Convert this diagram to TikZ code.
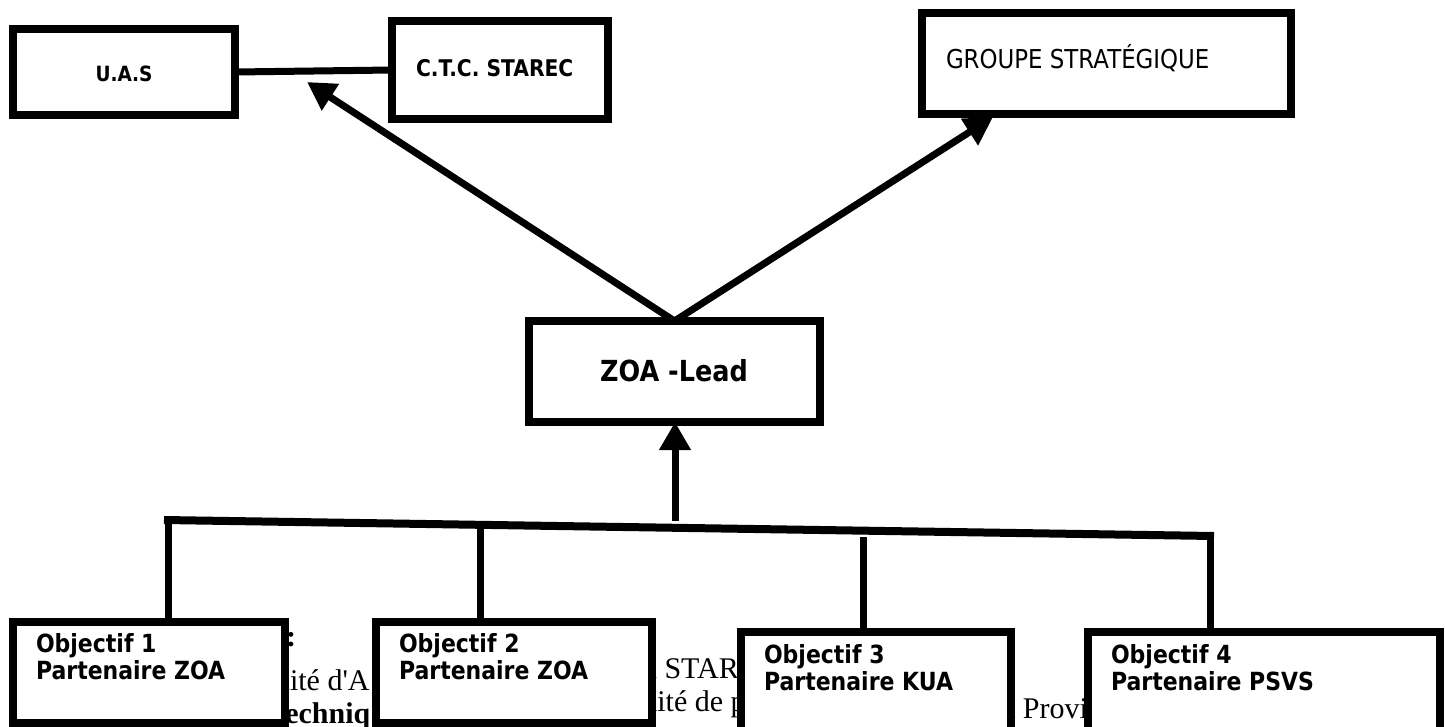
\documentclass[tikz,border=0pt]{standalone}
\usepackage{fontspec}
\usetikzlibrary{arrows.meta}
\newfontfamily\boxfont[FakeStretch=0.88]{DejaVu Sans}
\newfontfamily\bgfont{Liberation Serif}
\begin{document}
\begin{tikzpicture}[x=1pt,y=-1pt,
  box/.style={draw=black, line width=8pt, fill=white, inner sep=0pt, outer sep=0pt},
  lbl/.style={inner sep=0pt, outer sep=0pt},
  objlbl/.style={inner sep=0pt, outer sep=0pt, anchor=base west, font=\boxfont\bfseries\fontsize{25}{27}\selectfont},
  bg/.style={inner sep=0pt, outer sep=0pt, anchor=base west, font=\bgfont\fontsize{30}{36}\selectfont},
  conn/.style={line width=7pt},
  arr/.style={line width=7pt, -{Triangle[length=28pt,width=30pt]}},
]
\useasboundingbox (0,0) rectangle (1445,726);
\clip (0,0) rectangle (1445,726);

% background text fragments (partly hidden by boxes)
\node[bg, font=\bgfont\bfseries\fontsize{30}{36}\selectfont] (bgc) at (286,646) {:};
\node[bg] (bg1) at (275,690) {nité d'A};
\node[bg] (bg2) at (642,678) {u STAR};
\node[bg, font=\bgfont\bfseries\fontsize{30}{36}\selectfont] (bg3) at (268,723) {Techniq};
\node[bg] (bg4) at (634,711) {mité de p};
\node[bg] (bg5) at (1007,718) {t Provi};

% boxes
\node[box, minimum width=222pt, minimum height=86pt] (uas) at (124,72) {};
\node[box, minimum width=216pt, minimum height=98pt] (ctc) at (500,70) {};
\node[box, minimum width=369pt, minimum height=101pt] (grp) at (1106.5,63.5) {};
\node[box, minimum width=291pt, minimum height=101pt] (zoa) at (674.5,371.5) {};
\node[box, minimum width=272pt, minimum height=101pt] (o1) at (149,672.5) {};
\node[box, minimum width=276pt, minimum height=101pt] (o2) at (514,672.5) {};
\node[box, minimum width=270pt, minimum height=144pt] (o3) at (876,704) {};
\node[box, minimum width=352pt, minimum height=144pt] (o4) at (1264,704) {};

% labels
\node[lbl, anchor=base, font=\boxfont\bfseries\fontsize{21}{25}\selectfont] (uast) at (124,81) {U.A.S};
\node[lbl, anchor=base west, font=\boxfont\bfseries\fontsize{23}{27}\selectfont] (ctct) at (416,76) {C.T.C. STAREC};
\node[lbl, anchor=base west, font=\boxfont\fontsize{26}{30}\selectfont] (grpt) at (946,68) {GROUPE STRATÉGIQUE};
\node[lbl, anchor=base, font=\boxfont\bfseries\fontsize{29}{34}\selectfont] (zoat) at (674,381) {ZOA -Lead};
\node[objlbl, align=left] (o1t) at (36,679) {Objectif 1\\Partenaire ZOA};
\node[objlbl, align=left] (o2t) at (399,679) {Objectif 2\\Partenaire ZOA};
\node[objlbl, align=left] (o3t) at (764,690) {Objectif 3\\Partenaire KUA};
\node[objlbl, align=left] (o4t) at (1111,690) {Objectif 4\\Partenaire PSVS};

% connectors
\draw[conn] (uas.east) -- (ctc.west);
\coordinate (tipA) at (307,82);
\coordinate (tipB) at (993,117);
\draw[arr] (zoa.north) -- (tipA);
\draw[arr] (zoa.north) -- (tipB);

\coordinate (busL) at (164,520);
\coordinate (busR) at (1214,536);
\coordinate (d1) at (168,520);
\coordinate (d2) at (480,525);
\coordinate (d3) at (863,537);
\coordinate (d4) at (1210,536);
\coordinate (up) at (675,521);
\draw[line width=8pt] (busL) -- (busR);
\draw[conn] (d1) -- (d1 |- o1.north);
\draw[conn] (d2) -- (d2 |- o2.north);
\draw[conn] (d3) -- (d3 |- o3.north);
\draw[conn] (d4) -- (d4 |- o4.north);
\draw[arr] (up) -- (up |- zoa.south);
\end{tikzpicture}
\end{document}
